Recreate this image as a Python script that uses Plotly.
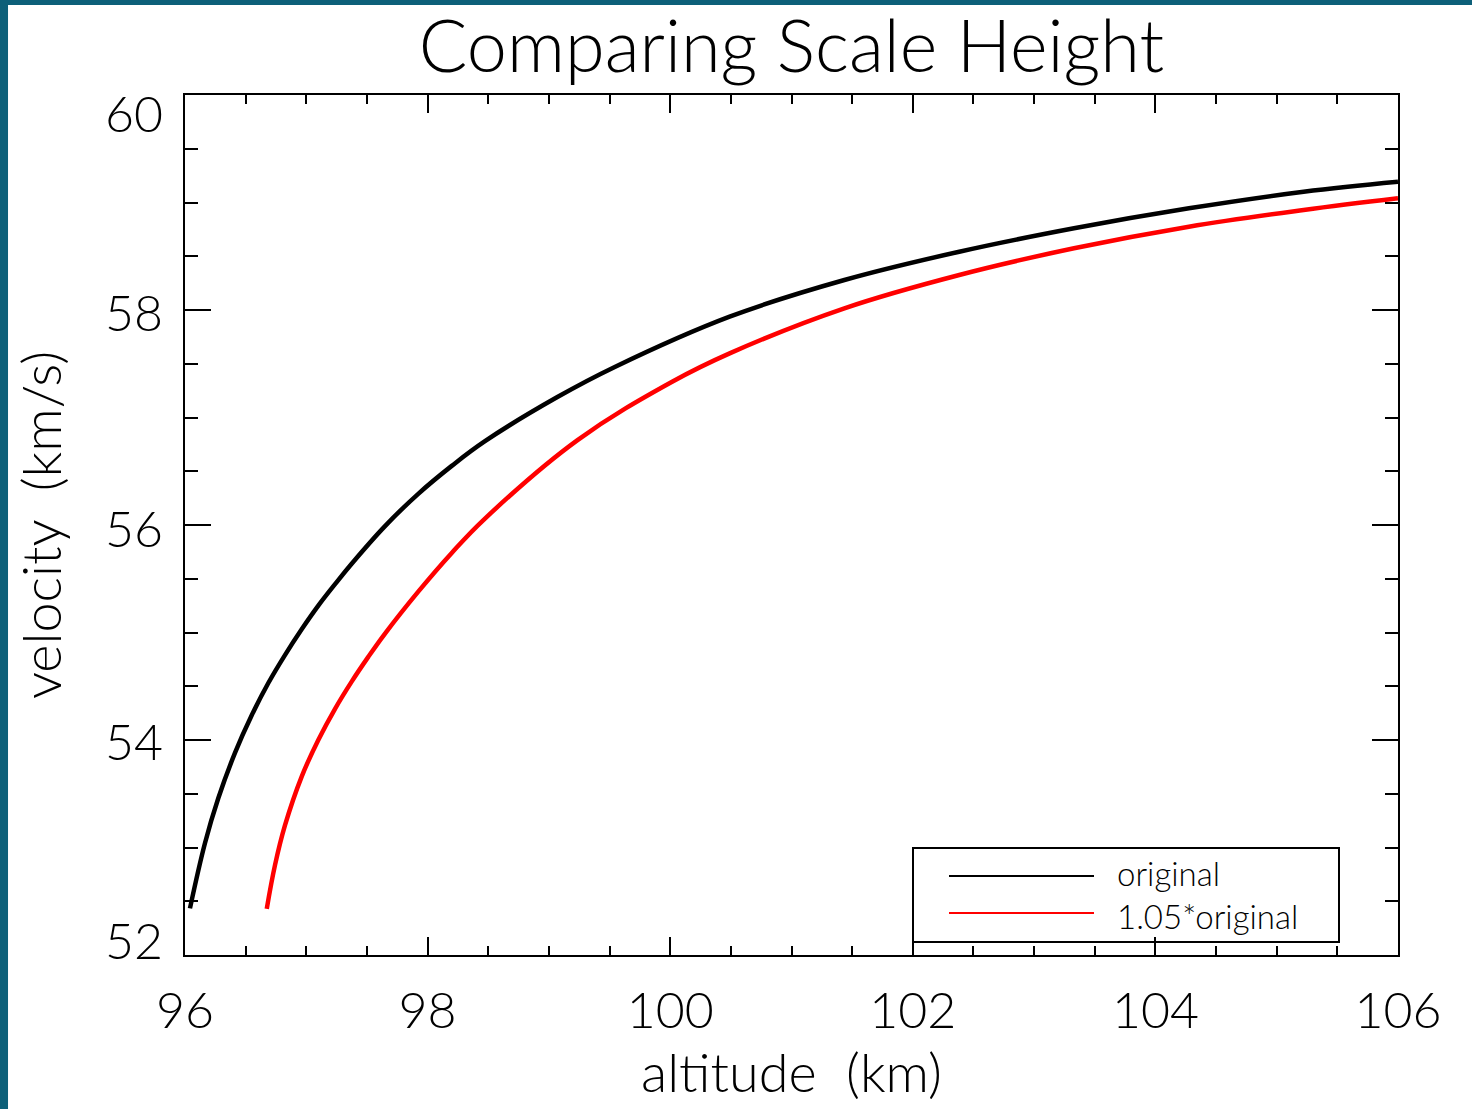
import plotly.graph_objects as go

# Data
alt_orig = [96.041, 96.165, 96.275, 96.412, 96.550, 96.687, 96.824, 96.962, 97.099,
            97.237, 97.374, 97.649, 97.923, 98.199, 98.473, 99.070, 99.543, 100.490,
            101.436, 102.383, 103.329, 104.276, 105.222, 106.0]
vel_orig = [52.434, 53.042, 53.460, 53.880, 54.230, 54.530, 54.790, 55.030, 55.250,
            55.450, 55.640, 55.990, 56.290, 56.550, 56.780, 57.190, 57.470, 57.938,
            58.279, 58.542, 58.760, 58.946, 59.100, 59.193]

alt_scaled = [96.674, 96.742, 96.824, 96.962, 97.099, 97.237, 97.374, 97.511, 97.649,
              97.923, 98.199, 98.473, 99.236, 100.016, 100.490, 101.436, 102.383,
              103.329, 104.276, 105.222, 106.0]
vel_scaled = [52.430, 52.836, 53.205, 53.660, 54.000, 54.290, 54.543, 54.773, 54.990,
              55.380, 55.740, 56.060, 56.790, 57.333, 57.597, 58.016, 58.326,
              58.574, 58.775, 58.930, 59.039]

names = ["original", "1.05*original"]
colors = ["black", "red"]

x_ticks = [96, 98, 100, 102, 104, 106]
y_ticks = [52, 54, 56, 58, 60]

FONT = "Lato"
W, H = 1472, 1109
L, R, T, B = 185, 74, 95, 154
PW, PH = W - L - R, H - T - B


def px_x(px):
    return (px - L) / PW


def px_y(py):
    return (H - B - py) / PH


fig = go.Figure()
for xs, ys, nm, col in [(alt_orig, vel_orig, names[0], colors[0]),
                         (alt_scaled, vel_scaled, names[1], colors[1])]:
    fig.add_trace(go.Scatter(x=xs, y=ys, mode="lines", name=nm, showlegend=False,
                             line=dict(color=col, width=4.5, shape="spline", smoothing=1.1)))

axis_common = dict(
    showline=True, linecolor="black", linewidth=2, mirror="allticks",
    ticks="inside", tickcolor="black", tickwidth=2,
    showgrid=False, zeroline=False,
)

fig.update_xaxes(
    range=[96, 106], tickvals=x_ticks, ticktext=[str(v) for v in x_ticks],
    ticklen=18,
    minor=dict(dtick=0.5, tick0=96, ticks="inside", ticklen=9, tickwidth=2, tickcolor="black", showgrid=False),
    tickfont=dict(family=FONT, size=50, color="black", weight=300),
    title=dict(text="altitude  (km)", font=dict(family=FONT, size=54, color="black", weight=300), standoff=6),
    ticklabelstandoff=11,
    **axis_common,
)
fig.update_yaxes(
    range=[52, 60], tickvals=y_ticks, showticklabels=False,
    ticklen=26,
    minor=dict(dtick=0.5, tick0=52, ticks="inside", ticklen=13, tickwidth=2, tickcolor="black", showgrid=False),
    title=dict(text="velocity  (km/s)", font=dict(family=FONT, size=54, color="black", weight=300), standoff=104),
    **axis_common,
)

annotations = []
# y tick labels (positioned as in the reference, end labels nudged inward)
y_shift = {60: -18, 58: -2, 56: -3, 54: -1, 52: 15}
for v in y_ticks:
    annotations.append(dict(x=0, xref="paper", y=v, yref="y", text=str(v), showarrow=False,
                            xanchor="right", yanchor="middle", xshift=-20, yshift=y_shift[v],
                            font=dict(family=FONT, size=50, color="black", weight=300)))

# legend (box, sample lines and labels)
leg_line_y = [876, 913]
leg_text_y = [873, 916]
shapes = [
    dict(type="rect", xref="paper", yref="paper", x0=-0.1459, x1=1.07, y0=-0.19, y1=1.1047,
         fillcolor="white", line=dict(width=0), layer="below"),
    dict(type="rect", xref="paper", yref="paper", x0=px_x(913), x1=px_x(1339),
         y0=px_y(942), y1=px_y(848), line=dict(color="black", width=2), layer="above"),
]
for nm, col, ly, ty in zip(names, colors, leg_line_y, leg_text_y):
    shapes.append(dict(type="line", xref="paper", yref="paper", x0=px_x(949), x1=px_x(1094),
                       y0=px_y(ly), y1=px_y(ly), line=dict(color=col, width=2)))
    annotations.append(dict(x=px_x(1115), xref="paper", y=px_y(ty), yref="paper", text=nm,
                            showarrow=False, xanchor="left", yanchor="middle",
                            font=dict(family=FONT, size=33, color="black", weight=300)))

fig.update_layout(
    width=W, height=H,
    margin=dict(l=L, r=R, t=T, b=B),
    paper_bgcolor="#0d6079",
    plot_bgcolor="white",
    showlegend=False,
    title=dict(text="Comparing Scale Height", xref="paper", x=0.5, xanchor="center",
               yref="container", y=1 - 47 / H, yanchor="middle",
               font=dict(family=FONT, size=72, color="black", weight=300)),
    shapes=shapes,
    annotations=annotations,
)

fig.write_html("out.html")
